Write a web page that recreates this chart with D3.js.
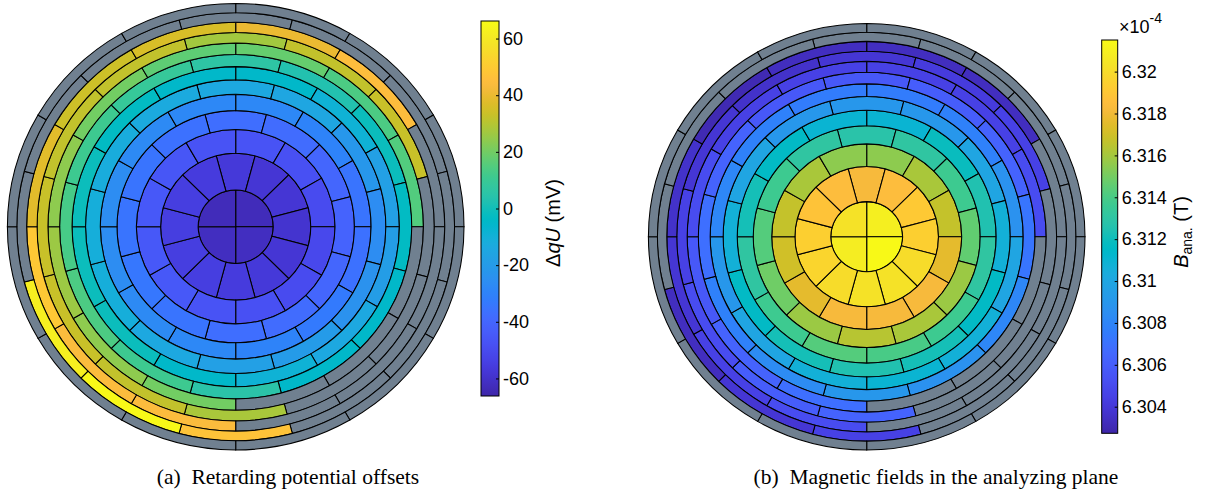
<!DOCTYPE html>
<html>
<head>
<meta charset="utf-8">
<script src="https://cdn.jsdelivr.net/npm/d3@7"></script>
<style>
  html, body { margin: 0; padding: 0; background: #ffffff; }
  svg { display: block; }
</style>
</head>
<body>
<svg id="fig" width="1220" height="494"></svg>
<script>
// ---------------------------------------------------------------
// Focal-plane detector maps: 4-pixel bullseye + 12 rings x 12 pixels.
// Bullseye order: quadrants clockwise from 12 o'clock.
// Ring rows: pixel 0 at 12 o'clock, clockwise. Odd rings are centred on
// 12 o'clock, even rings start at 12 o'clock. null = excluded pixel.
// ---------------------------------------------------------------

// (a) retarding potential offsets, mV
const offsetBullseye = [-63, -62, -62, -63];
const offsetRings = [
  [-57, -58, -58, -59, -58, -57, -56, -55, -55, -55, -55, -56],
  [-47, -48, -50, -51, -50, -48, -47, -45, -45, -45, -46, -47],
  [-37, -38, -40, -41, -40, -38, -37, -35, -34, -35, -35, -36],
  [-28, -30, -35, -36, -33, -30, -28, -27, -26, -26, -27, -28],
  [-14, -15, -22, -26, -24, -20, -18, -14, -11, -11, -12, -13],
  [-5, -9, -18, -19, -14, -9, -5, -1, -1, -1, -3, -5],
  [6, 3, -1, -3, -5, -5, 5, 11, 14, 13, 11, 9],
  [18, 14, 15, null, null, null, 20, 24, 26, 24, 20, 17],
  [27, 32, 33, null, null, null, 28, 32, 33, 33, 32, 32],
  [40, 45, null, null, null, null, 44, 44, 49, 38, 34, 36],
  [null, null, null, null, null, null, 47, 65, 62, null, null, null],
  [null, null, null, null, null, null, null, null, null, null, null, null]
];

// (b) magnetic field in the analyzing plane, 1e-4 T
const fieldBullseye = [6.3209, 6.3214, 6.3208, 6.3203];
const fieldRings = [
  [6.3182, 6.3185, 6.3191, 6.3194, 6.3200, 6.3203, 6.3203, 6.3200, 6.3197, 6.3194, 6.3188, 6.3185],
  [6.3155, 6.3161, 6.3167, 6.3176, 6.3182, 6.3182, 6.3182, 6.3176, 6.3170, 6.3167, 6.3161, 6.3155],
  [6.3128, 6.3131, 6.3137, 6.3146, 6.3158, 6.3161, 6.3164, 6.3158, 6.3149, 6.3143, 6.3137, 6.3131],
  [6.3110, 6.3119, 6.3125, 6.3131, 6.3137, 6.3140, 6.3143, 6.3137, 6.3131, 6.3122, 6.3116, 6.3110],
  [6.3090, 6.3090, 6.3099, 6.3107, 6.3116, 6.3122, 6.3125, 6.3122, 6.3116, 6.3107, 6.3099, 6.3090],
  [6.3075, 6.3078, 6.3087, 6.3099, 6.3107, 6.3110, 6.3107, 6.3099, 6.3090, 6.3081, 6.3078, 6.3075],
  [6.3057, 6.3060, 6.3063, 6.3072, 6.3081, 6.3087, 6.3090, 6.3084, 6.3078, 6.3069, 6.3063, 6.3057],
  [6.3045, 6.3045, 6.3051, null, null, null, 6.3069, 6.3063, 6.3057, 6.3051, 6.3045, 6.3045],
  [6.3039, 6.3042, 6.3045, null, null, null, 6.3063, 6.3060, 6.3051, 6.3045, 6.3039, 6.3036],
  [6.3033, 6.3033, null, null, null, null, 6.3051, 6.3045, 6.3039, 6.3036, 6.3030, 6.3033],
  [null, null, null, null, null, null, 6.3045, 6.3039, 6.3033, null, null, null],
  [null, null, null, null, null, null, null, null, null, null, null, null]
];

const offsetLimits = [-66.2, 66.2];
const fieldLimits = [6.30273, 6.32151];
const offsetTicks = [-60, -40, -20, 0, 20, 40, 60];
const fieldTicks = [6.304, 6.306, 6.308, 6.31, 6.312, 6.314, 6.316, 6.318, 6.32];
const captions = ["(a)\u2002Retarding potential offsets", "(b)\u2002Magnetic fields in the analyzing plane"];

// ---------------------------------------------------------------
// parula colour map (64 entries)
// ---------------------------------------------------------------
const parulaTable = [
  [0.2422,0.1504,0.6603],[0.2504,0.1650,0.7076],[0.2578,0.1818,0.7511],[0.2647,0.1978,0.7952],
  [0.2706,0.2147,0.8364],[0.2751,0.2342,0.8710],[0.2783,0.2559,0.8991],[0.2803,0.2782,0.9221],
  [0.2813,0.3006,0.9414],[0.2810,0.3228,0.9579],[0.2795,0.3447,0.9717],[0.2760,0.3667,0.9829],
  [0.2699,0.3892,0.9906],[0.2602,0.4123,0.9952],[0.2440,0.4358,0.9988],[0.2206,0.4603,0.9973],
  [0.1963,0.4847,0.9892],[0.1834,0.5074,0.9798],[0.1786,0.5289,0.9682],[0.1764,0.5499,0.9520],
  [0.1687,0.5703,0.9359],[0.1540,0.5902,0.9218],[0.1460,0.6091,0.9079],[0.1380,0.6276,0.8973],
  [0.1248,0.6459,0.8883],[0.1113,0.6635,0.8763],[0.0952,0.6798,0.8598],[0.0689,0.6948,0.8394],
  [0.0297,0.7082,0.8163],[0.0036,0.7203,0.7917],[0.0067,0.7312,0.7660],[0.0433,0.7411,0.7394],
  [0.0964,0.7500,0.7120],[0.1408,0.7584,0.6842],[0.1717,0.7670,0.6554],[0.1938,0.7758,0.6251],
  [0.2161,0.7843,0.5923],[0.2470,0.7918,0.5567],[0.2906,0.7973,0.5188],[0.3406,0.8008,0.4789],
  [0.3909,0.8029,0.4354],[0.4456,0.8024,0.3909],[0.5044,0.7993,0.3480],[0.5616,0.7942,0.3045],
  [0.6174,0.7876,0.2612],[0.6720,0.7793,0.2227],[0.7242,0.7698,0.1910],[0.7738,0.7598,0.1646],
  [0.8203,0.7498,0.1535],[0.8634,0.7406,0.1596],[0.9035,0.7330,0.1774],[0.9393,0.7288,0.2100],
  [0.9728,0.7298,0.2394],[0.9956,0.7434,0.2371],[0.9970,0.7659,0.2199],[0.9952,0.7893,0.2028],
  [0.9892,0.8136,0.1885],[0.9786,0.8386,0.1766],[0.9676,0.8639,0.1643],[0.9610,0.8890,0.1537],
  [0.9597,0.9135,0.1423],[0.9628,0.9373,0.1265],[0.9691,0.9606,0.1064],[0.9769,0.9839,0.0805]
];
const parula = d3.piecewise(d3.interpolateRgb,
  parulaTable.map(c => d3.rgb(c[0] * 255, c[1] * 255, c[2] * 255)));

const EXCLUDED = "#708090";
const EDGE = "#000000";
const SANS = "'Liberation Sans', Arial, Helvetica, sans-serif";
const SERIF = "'Liberation Serif', 'Times New Roman', serif";

const svg = d3.select("#fig");
const defs = svg.append("defs");

// Build the pixel list: inner/outer given as cumulative pixel counts
function detectorPixels(bullseye, rings) {
  const out = [];
  bullseye.forEach((v, i) => out.push({ inner: 0, outer: 4, a0: 90 * i, a1: 90 * i + 90, v }));
  rings.forEach((row, k) => {
    const ring = k + 1;
    const shift = ring % 2 === 1 ? -15 : 0;
    row.forEach((v, j) => out.push({
      inner: 4 + 12 * k, outer: 4 + 12 * ring,
      a0: shift + 30 * j, a1: shift + 30 * j + 30, v
    }));
  });
  return out;
}

function drawDetector(cx, cy, R, squash, pixels, color) {
  // equal-area pixels: radius grows with the square root of the pixel count
  const radius = d3.scaleSqrt().domain([0, 148]).range([0, R]);
  const deg = Math.PI / 180;
  const arc = d3.arc()
    .innerRadius(d => radius(d.inner))
    .outerRadius(d => radius(d.outer))
    .startAngle(d => d.a0 * deg)
    .endAngle(d => d.a1 * deg);
  svg.append("g")
    .attr("transform", `translate(${cx},${cy}) scale(1,${squash})`)
    .selectAll("path")
    .data(pixels)
    .join("path")
    .attr("d", arc)
    .attr("fill", d => d.v == null ? EXCLUDED : color(d.v))
    .attr("stroke", EDGE)
    .attr("stroke-width", 1.05)
    .attr("vector-effect", "non-scaling-stroke");
}

function drawColorbar(id, x, y0, y1, w, domain, ticks) {
  const grad = defs.append("linearGradient")
    .attr("id", id).attr("x1", 0).attr("y1", 1).attr("x2", 0).attr("y2", 0);
  grad.selectAll("stop")
    .data(d3.range(0, 65).map(i => i / 64))
    .join("stop")
    .attr("offset", t => t)
    .attr("stop-color", t => parula(t));

  svg.append("rect")
    .attr("x", x).attr("y", y0).attr("width", w).attr("height", y1 - y0)
    .attr("fill", `url(#${id})`)
    .attr("stroke", "#000").attr("stroke-width", 1);

  const scale = d3.scaleLinear().domain(domain).range([y1, y0]);
  const axis = d3.axisRight(scale)
    .tickValues(ticks)
    .tickFormat(d => String(d))
    .tickSize(-3)
    .tickPadding(4);
  const g = svg.append("g").attr("transform", `translate(${x + w},0)`).call(axis);
  g.select(".domain").remove();
  g.selectAll(".tick line").attr("stroke", "#000").attr("stroke-width", 1);
  g.selectAll(".tick text")
    .attr("font-family", SANS).attr("font-size", 18).attr("fill", "#000");
  g.attr("font-family", SANS).attr("font-size", 18);
  return scale;
}

// ---------------- (a) ----------------
const offsetColor = d3.scaleSequential(parula).domain(offsetLimits).clamp(true);
drawDetector(235.7, 226.7, 228.3, 0.978, detectorPixels(offsetBullseye, offsetRings), offsetColor);
drawColorbar("cbA", 481, 21, 396, 18, offsetLimits, offsetTicks);

const labelA = svg.append("text")
  .attr("transform", "translate(560,223) rotate(-90)")
  .attr("text-anchor", "middle")
  .attr("font-family", SANS).attr("font-size", 20).attr("fill", "#000");
labelA.append("tspan").text("\u0394");
labelA.append("tspan").attr("font-style", "italic").text("qU");
labelA.append("tspan").text(" (mV)");

// ---------------- (b) ----------------
const fieldColor = d3.scaleSequential(parula).domain(fieldLimits).clamp(true);
drawDetector(866.7, 236.7, 218.3, 0.977, detectorPixels(fieldBullseye, fieldRings), fieldColor);
drawColorbar("cbB", 1101.7, 40, 433.3, 16, fieldLimits, fieldTicks);

const expo = svg.append("text")
  .attr("x", 1119).attr("y", 33)
  .attr("font-family", SANS).attr("font-size", 18).attr("fill", "#000");
expo.append("tspan").text("\u00d710");
expo.append("tspan").attr("dy", -10).attr("font-size", 14).text("-4");

const labelB = svg.append("text")
  .attr("transform", "translate(1188,232) rotate(-90)")
  .attr("text-anchor", "middle")
  .attr("font-family", SANS).attr("font-size", 20).attr("fill", "#000");
labelB.append("tspan").attr("font-style", "italic").text("B");
labelB.append("tspan").attr("font-size", 14).attr("dy", 4).text("ana.");
labelB.append("tspan").attr("dy", -4).text(" (T)");

// ---------------- captions ----------------
svg.selectAll("text.caption")
  .data(captions)
  .join("text")
  .attr("class", "caption")
  .attr("x", (d, i) => i === 0 ? 288 : 936)
  .attr("y", 484)
  .attr("text-anchor", "middle")
  .attr("font-family", SERIF)
  .attr("font-size", 21.5)
  .attr("fill", "#000")
  .text(d => d);
</script>
</body>
</html>
